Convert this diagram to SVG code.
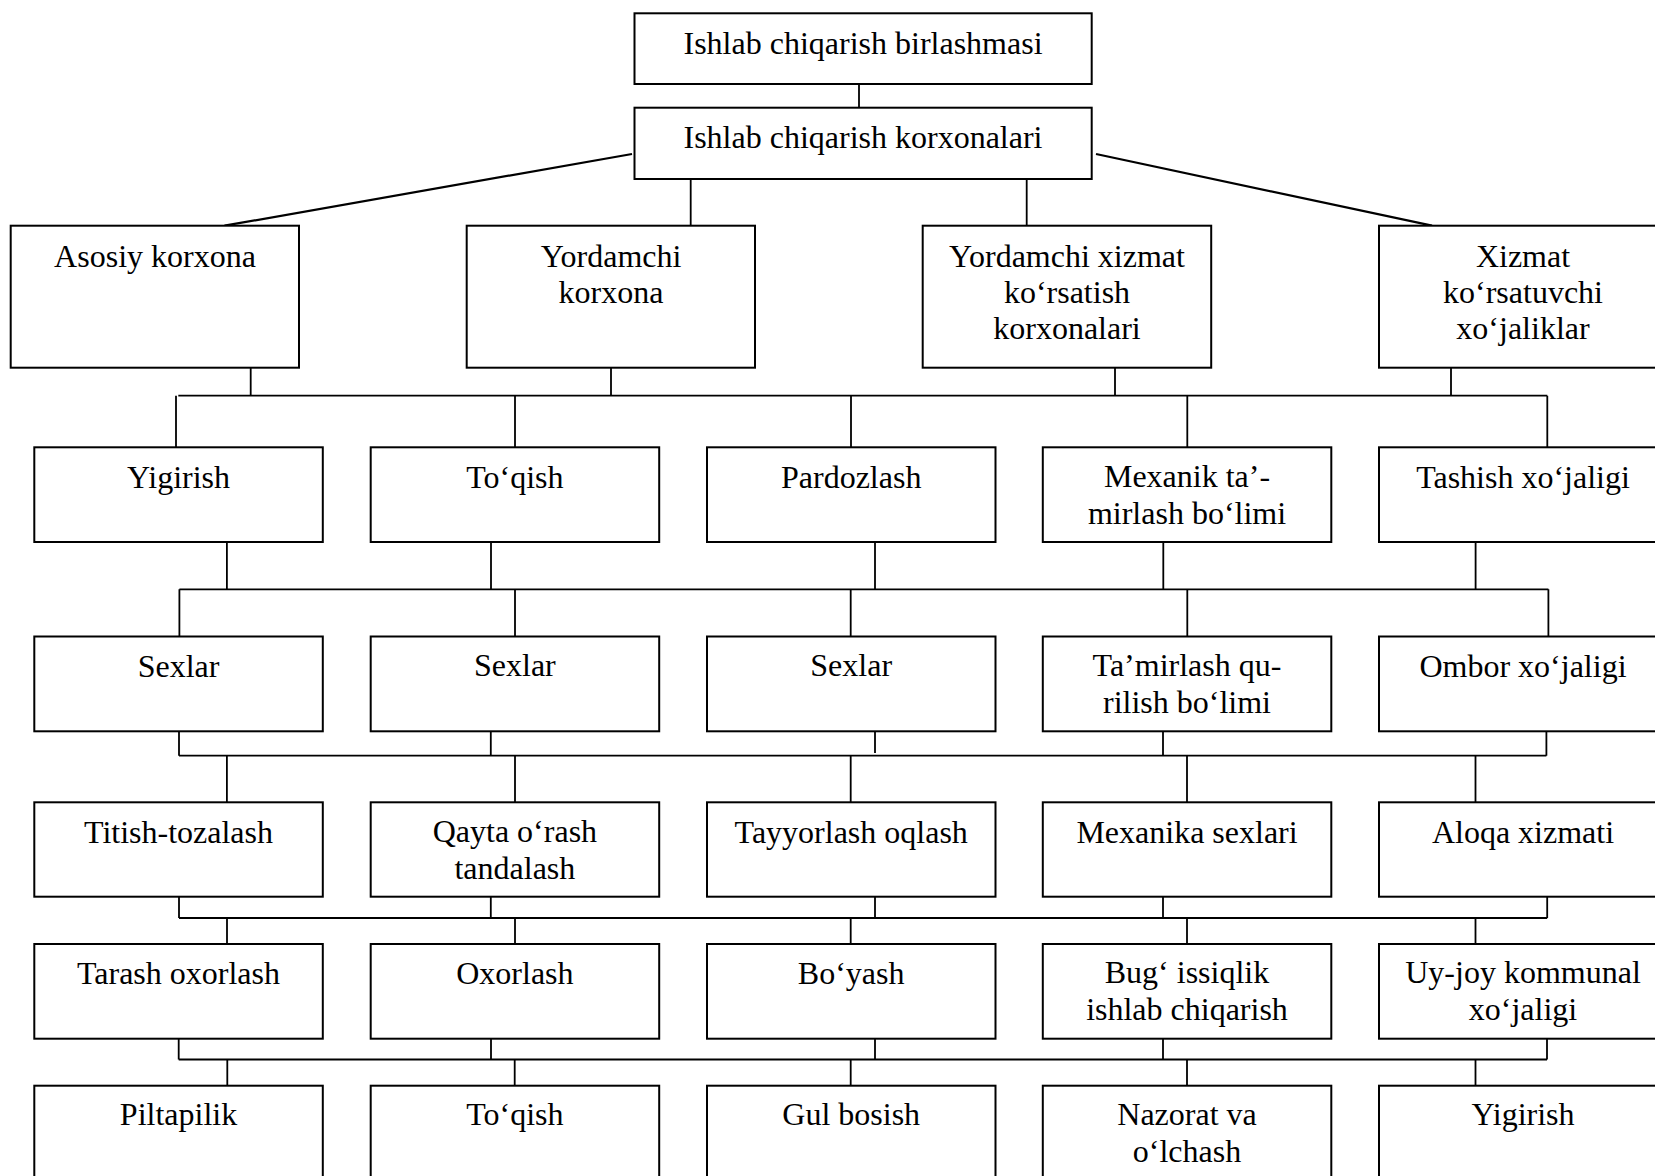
<svg xmlns="http://www.w3.org/2000/svg" width="1655" height="1176" viewBox="0 0 1655 1176">
  <style>
    .box { fill: #ffffff; stroke: #000000; stroke-width: 2; }
    .lbl { font-family: "Liberation Serif", "Times New Roman", serif; font-size: 32px; fill: #000000; text-anchor: middle; }
    .conn { fill: none; stroke: #000000; stroke-width: 1.8; }
    .diag { fill: none; stroke: #000000; stroke-width: 2.2; }
  </style>
  <rect width="1655" height="1176" fill="#ffffff"/>

  <!-- connectors -->
  <g id="connectors">
    <path class="conn" d="M859 84 V107.7"/>
    <path class="diag" d="M632 154 L224.5 225.7"/>
    <path class="diag" d="M1096 154 L1432 225.7"/>
    <path class="conn" d="M690.7 179 V225.7 M1026.7 179 V225.7"/>

    <!-- level 1 bus -->
    <path class="conn" d="M250.7 367.7 V395.7 M611 367.7 V395.7 M1115 367.7 V395.7 M1451 367.7 V395.7"/>
    <path class="conn" d="M178.3 395.7 H1547.3"/>
    <path class="conn" d="M176 395.7 V447.3 M515 395.7 V447.3 M851 395.7 V447.3 M1187.3 395.7 V447.3 M1547.3 395.7 V447.3"/>

    <!-- level 2 bus -->
    <path class="conn" d="M226.9 542 V589.3 M491 542 V589.3 M875 542 V589.3 M1163.3 542 V589.3 M1475.6 542 V589.3"/>
    <path class="conn" d="M179.4 589.3 H1548.4"/>
    <path class="conn" d="M179.4 589.3 V636.5 M515 589.3 V636.5 M850.7 589.3 V636.5 M1187.3 589.3 V636.5 M1548.4 589.3 V636.5"/>

    <!-- level 3 bus -->
    <path class="conn" d="M179 731.3 V755.7 M490.8 731.3 V755.7 M875 731.3 V753 M1163 731.3 V755.7 M1546.4 731.3 V755.7"/>
    <path class="conn" d="M179 755.7 H1546.4"/>
    <path class="conn" d="M226.9 755.7 V802.3 M515 755.7 V802.3 M850.7 755.7 V802.3 M1187 755.7 V802.3 M1475.5 755.7 V802.3"/>

    <!-- level 4 bus -->
    <path class="conn" d="M179 896.7 V918 M490.8 896.7 V918 M875 896.7 V918 M1163 896.7 V918 M1547.2 896.7 V918"/>
    <path class="conn" d="M179 918 H1547.2"/>
    <path class="conn" d="M227 918 V944 M515 918 V944 M850.7 918 V944 M1187 918 V944 M1475.5 918 V944"/>

    <!-- level 5 bus -->
    <path class="conn" d="M178.7 1038.7 V1059.5 M491 1038.7 V1059.5 M875 1038.7 V1059.5 M1163 1038.7 V1059.5 M1547 1038.7 V1059.5"/>
    <path class="conn" d="M178.7 1059.5 H1547"/>
    <path class="conn" d="M227.3 1059.5 V1085.7 M514.7 1059.5 V1085.7 M850.7 1059.5 V1085.7 M1187 1059.5 V1085.7 M1475.5 1059.5 V1085.7"/>
  </g>

  <!-- top -->
  <g id="n-birlashma">
    <rect class="box" x="634.5" y="13.3" width="457.2" height="70.7"/>
    <text class="lbl" x="863" y="54">Ishlab chiqarish birlashmasi</text>
  </g>
  <g id="n-korxonalar">
    <rect class="box" x="634.5" y="107.7" width="457.2" height="71.3"/>
    <text class="lbl" x="863" y="148.3">Ishlab chiqarish korxonalari</text>
  </g>

  <!-- row 1 -->
  <g id="n-asosiy">
    <rect class="box" x="10.7" y="225.7" width="288.3" height="142"/>
    <text class="lbl" x="155" y="266.5">Asosiy korxona</text>
  </g>
  <g id="n-yordamchi">
    <rect class="box" x="466.7" y="225.7" width="288.3" height="142"/>
    <text class="lbl" x="611" y="266.5">Yordamchi<tspan x="611" dy="36">korxona</tspan></text>
  </g>
  <g id="n-yordamchi-xizmat">
    <rect class="box" x="922.7" y="225.7" width="288.5" height="142"/>
    <text class="lbl" x="1067" y="266.5">Yordamchi xizmat<tspan x="1067" dy="36">ko‘rsatish</tspan><tspan x="1067" dy="36">korxonalari</tspan></text>
  </g>
  <g id="n-xizmat">
    <rect class="box" x="1379" y="225.7" width="288.5" height="142"/>
    <text class="lbl" x="1523" y="266.5">Xizmat<tspan x="1523" dy="36">ko‘rsatuvchi</tspan><tspan x="1523" dy="36">xo‘jaliklar</tspan></text>
  </g>

  <!-- row 2 -->
  <g id="n-r2-1">
    <rect class="box" x="34.3" y="447.3" width="288.5" height="94.7"/>
    <text class="lbl" x="178.5" y="487.5">Yigirish</text>
  </g>
  <g id="n-r2-2">
    <rect class="box" x="370.7" y="447.3" width="288.5" height="94.7"/>
    <text class="lbl" x="514.9" y="487.5">To‘qish</text>
  </g>
  <g id="n-r2-3">
    <rect class="box" x="707" y="447.3" width="288.5" height="94.7"/>
    <text class="lbl" x="851.2" y="487.5">Pardozlash</text>
  </g>
  <g id="n-r2-4">
    <rect class="box" x="1042.8" y="447.3" width="288.5" height="94.7"/>
    <text class="lbl" x="1187" y="487">Mexanik ta’-<tspan x="1187" dy="36.5">mirlash bo‘limi</tspan></text>
  </g>
  <g id="n-r2-5">
    <rect class="box" x="1379" y="447.3" width="288.5" height="94.7"/>
    <text class="lbl" x="1523" y="487.5">Tashish xo‘jaligi</text>
  </g>

  <!-- row 3 -->
  <g id="n-r3-1">
    <rect class="box" x="34.3" y="636.5" width="288.5" height="94.8"/>
    <text class="lbl" x="178.5" y="676.5">Sexlar</text>
  </g>
  <g id="n-r3-2">
    <rect class="box" x="370.7" y="636.5" width="288.5" height="94.8"/>
    <text class="lbl" x="514.9" y="675.5">Sexlar</text>
  </g>
  <g id="n-r3-3">
    <rect class="box" x="707" y="636.5" width="288.5" height="94.8"/>
    <text class="lbl" x="851.2" y="675.5">Sexlar</text>
  </g>
  <g id="n-r3-4">
    <rect class="box" x="1042.8" y="636.5" width="288.5" height="94.8"/>
    <text class="lbl" x="1187" y="676">Ta’mirlash qu-<tspan x="1187" dy="36.5">rilish bo‘limi</tspan></text>
  </g>
  <g id="n-r3-5">
    <rect class="box" x="1379" y="636.5" width="288.5" height="94.8"/>
    <text class="lbl" x="1523" y="676.5">Ombor xo‘jaligi</text>
  </g>

  <!-- row 4 -->
  <g id="n-r4-1">
    <rect class="box" x="34.3" y="802.3" width="288.5" height="94.4"/>
    <text class="lbl" x="178.5" y="842.5">Titish-tozalash</text>
  </g>
  <g id="n-r4-2">
    <rect class="box" x="370.7" y="802.3" width="288.5" height="94.4"/>
    <text class="lbl" x="514.9" y="842">Qayta o‘rash<tspan x="514.9" dy="36.5">tandalash</tspan></text>
  </g>
  <g id="n-r4-3">
    <rect class="box" x="707" y="802.3" width="288.5" height="94.4"/>
    <text class="lbl" x="851.2" y="842.5">Tayyorlash oqlash</text>
  </g>
  <g id="n-r4-4">
    <rect class="box" x="1042.8" y="802.3" width="288.5" height="94.4"/>
    <text class="lbl" x="1187" y="842.5">Mexanika sexlari</text>
  </g>
  <g id="n-r4-5">
    <rect class="box" x="1379" y="802.3" width="288.5" height="94.4"/>
    <text class="lbl" x="1523" y="842.5">Aloqa xizmati</text>
  </g>

  <!-- row 5 -->
  <g id="n-r5-1">
    <rect class="box" x="34.3" y="944" width="288.5" height="94.7"/>
    <text class="lbl" x="178.5" y="983.5">Tarash oxorlash</text>
  </g>
  <g id="n-r5-2">
    <rect class="box" x="370.7" y="944" width="288.5" height="94.7"/>
    <text class="lbl" x="514.9" y="983.5">Oxorlash</text>
  </g>
  <g id="n-r5-3">
    <rect class="box" x="707" y="944" width="288.5" height="94.7"/>
    <text class="lbl" x="851.2" y="983.5">Bo‘yash</text>
  </g>
  <g id="n-r5-4">
    <rect class="box" x="1042.8" y="944" width="288.5" height="94.7"/>
    <text class="lbl" x="1187" y="983.3">Bug‘ issiqlik<tspan x="1187" dy="36.7">ishlab chiqarish</tspan></text>
  </g>
  <g id="n-r5-5">
    <rect class="box" x="1379" y="944" width="288.5" height="94.7"/>
    <text class="lbl" x="1523" y="983.3">Uy-joy kommunal<tspan x="1523" dy="36.7">xo‘jaligi</tspan></text>
  </g>

  <!-- row 6 -->
  <g id="n-r6-1">
    <rect class="box" x="34.3" y="1085.7" width="288.5" height="94.5"/>
    <text class="lbl" x="178.5" y="1125">Piltapilik</text>
  </g>
  <g id="n-r6-2">
    <rect class="box" x="370.7" y="1085.7" width="288.5" height="94.5"/>
    <text class="lbl" x="514.9" y="1125">To‘qish</text>
  </g>
  <g id="n-r6-3">
    <rect class="box" x="707" y="1085.7" width="288.5" height="94.5"/>
    <text class="lbl" x="851.2" y="1125">Gul bosish</text>
  </g>
  <g id="n-r6-4">
    <rect class="box" x="1042.8" y="1085.7" width="288.5" height="94.5"/>
    <text class="lbl" x="1187" y="1125">Nazorat va<tspan x="1187" dy="36.7">o‘lchash</tspan></text>
  </g>
  <g id="n-r6-5">
    <rect class="box" x="1379" y="1085.7" width="288.5" height="94.5"/>
    <text class="lbl" x="1523" y="1125">Yigirish</text>
  </g>
</svg>
